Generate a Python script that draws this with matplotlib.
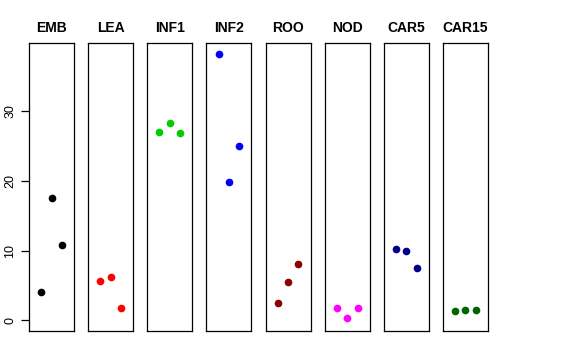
import numpy as np
import matplotlib.pyplot as plt

plt.rcParams['font.family'] = ['Liberation Sans', 'DejaVu Sans']

tissues = ['EMB', 'LEA', 'INF1', 'INF2', 'ROO', 'NOD', 'CAR5', 'CAR15']
colors = ['black', 'red', '#00CD00', 'blue', '#8B0000', 'magenta', '#00008B', '#006400']

emb = [4.1, 17.5, 10.8]
lea = [5.7, 6.2, 1.8]
inf1 = [27.0, 28.2, 26.85]
inf2 = [38.2, 19.8, 25.0]
roo = [2.5, 5.5, 8.05]
nod = [1.8, 0.39, 1.8]
car5 = [10.15, 9.96, 7.5]
car15 = [1.36, 1.46, 1.46]
values = [emb, lea, inf1, inf2, roo, nod, car5, car15]

reps = [1, 2, 3]
yticks = [0, 10, 20, 30]

W, H = 576, 360
fig = plt.figure(figsize=(W / 100, H / 100), dpi=100)

# y range starts at 0, R-style 4% padding
ymin = 0
ymax = max(max(v) for v in values)
pad = 0.04 * (ymax - ymin)

for i, (name, vals, col) in enumerate(zip(tissues, values, colors)):
    left = 29 + i * 59.14
    ax = fig.add_axes([left / W, 29 / H, 45 / W, 288 / H])
    ax.plot(reps, vals, 'o', color=col, markersize=4.5, linestyle='none')
    ax.set_xlim(-0.16, 4.16)
    ax.set_ylim(ymin - pad, ymax + pad)
    ax.set_xticks([])
    ax.set_title(name, fontsize=10, fontweight='bold', pad=8)
    for s in ax.spines.values():
        s.set_linewidth(0.9)
    if i == 0:
        ax.set_yticks(yticks)
        ax.set_yticklabels([str(t) for t in yticks], rotation=90, va='center', fontsize=9)
        ax.tick_params(axis='y', length=6, width=0.9, pad=3)
    else:
        ax.set_yticks([])

fig.savefig('out.png', dpi=100)
